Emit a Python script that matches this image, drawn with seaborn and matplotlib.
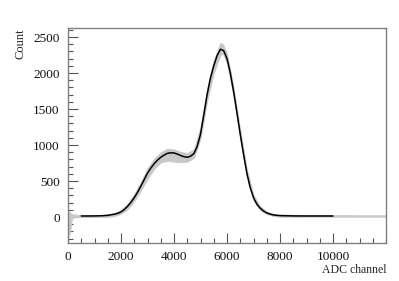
import matplotlib
matplotlib.use("Agg")
import matplotlib.pyplot as plt
import seaborn as sns
import numpy as np
import pandas as pd
from matplotlib.ticker import MultipleLocator, FixedLocator

# measured data band (gray)
data_x = [0, 40, 80, 150, 250, 400, 500, 750, 1000, 1250, 1500, 1750, 2000, 2250,
          2500, 2750, 3000, 3250, 3500, 3750, 4000, 4250, 4500, 4750, 5000, 5250,
          5500, 5750, 5850, 6000, 6250, 6500, 6750, 7000, 7250, 7500, 7750, 8000,
          9000, 10000, 11000, 12000]
data_hi = [60, 80, 60, 40, 35, 30, 28, 25, 25, 30, 35, 55, 100, 190, 320, 490, 680,
           810, 900, 950, 940, 905, 890, 940, 1250, 1790, 2180, 2420, 2400, 2270,
           1800, 1210, 660, 310, 150, 75, 45, 35, 30, 30, 25, 25]
data_lo = [-120, -260, -200, -20, 0, 0, 2, 0, 0, 0, 0, 15, 45, 110, 220, 370, 530,
           670, 760, 780, 770, 760, 770, 820, 1090, 1610, 2000, 2250, 2270, 2130,
           1680, 1090, 560, 230, 95, 40, 15, 5, 5, 5, 5, 5]

# fit curve (black)
fit_x = [500, 750, 1000, 1250, 1500, 1750, 1875, 2000, 2125, 2250, 2375, 2500,
         2625, 2750, 2875, 3000, 3125, 3250, 3375, 3500, 3625, 3750, 3875, 4000,
         4125, 4250, 4375, 4500, 4625, 4750, 4875, 5000, 5125, 5250, 5375, 5500,
         5625, 5750, 5875, 6000, 6125, 6250, 6375, 6500, 6625, 6750, 6875, 7000,
         7125, 7250, 7375, 7500, 7625, 7750, 7875, 8000, 8500, 9000, 9500, 10000]
fit_y = [15, 15, 16, 18, 24, 40, 52, 72, 105, 150, 205, 270, 345, 430, 520, 610,
         680, 740, 790, 830, 860, 885, 892, 890, 875, 855, 838, 830, 845, 880, 980,
         1150, 1420, 1700, 1930, 2100, 2240, 2330, 2310, 2200, 2000, 1740, 1450,
         1150, 870, 610, 410, 270, 180, 125, 85, 58, 42, 30, 24, 20, 16, 15, 15, 15]

x_ticks = [0, 2000, 4000, 6000, 8000, 10000]
y_ticks = [0, 500, 1000, 1500, 2000, 2500]

sns.set_style("ticks")
plt.rcParams['font.family'] = ['Liberation Serif', 'DejaVu Serif']

fig = plt.figure(figsize=(3.99, 2.81), dpi=100)
ax = fig.add_axes([68/399, 1-243/281, (386-68)/399, (243-28)/281])

ax.fill_between(data_x, data_lo, data_hi, color='#c8c8c8', linewidth=0.6,
                edgecolor='#c8c8c8', zorder=1)
df = pd.DataFrame({'x': fit_x, 'y': fit_y})
sns.lineplot(data=df, x='x', y='y', ax=ax, color='black', linewidth=1.1, zorder=2)

ax.set_xlim(0, 12000)
ax.set_ylim(-360, 2625)
ax.xaxis.set_major_locator(FixedLocator(x_ticks))
ax.yaxis.set_major_locator(FixedLocator(y_ticks))
ax.xaxis.set_minor_locator(MultipleLocator(500))
ax.yaxis.set_minor_locator(MultipleLocator(100))
ax.tick_params(which='both', direction='in', top=False, right=False,
               color='#555555', width=0.8, labelsize=9.5, labelcolor='#111111')
ax.tick_params(which='major', length=7, pad=6)
ax.tick_params(which='minor', length=3.5)
for s in ax.spines.values():
    s.set_color('#808080')
    s.set_linewidth(1.0)

ax.set_xlabel('')
ax.set_ylabel('')
fig.text(386/399, 1-270/281, 'ADC channel', ha='right', va='center', fontsize=8.5)
fig.text(20/399, 1-28/281, 'Count', ha='center', va='top', rotation=90, fontsize=9)

fig.savefig('out.png', dpi=100)
